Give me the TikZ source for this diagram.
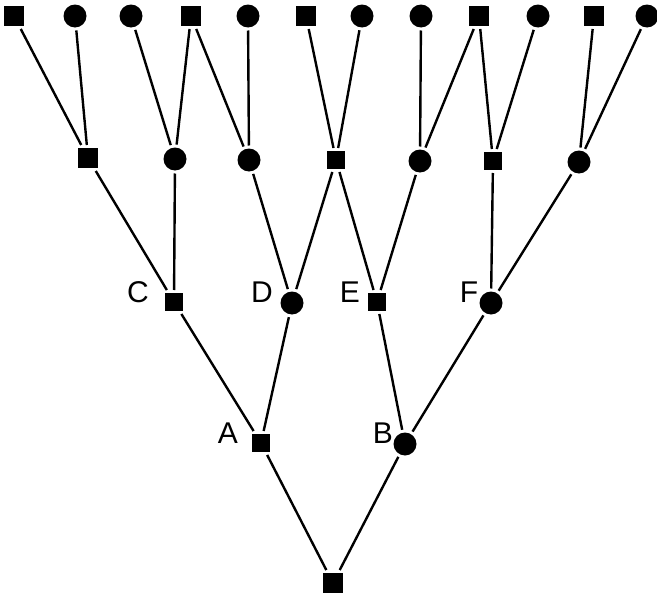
\documentclass[tikz,border=0pt]{standalone}
\usepackage{fontspec}
\setmainfont{Liberation Sans}
\begin{document}
\begin{tikzpicture}[x=1pt,y=-1pt,
  sq/.style={fill=black,minimum size=20pt,inner sep=0pt,outer sep=3pt,rectangle},
  ssq/.style={sq,minimum size=18pt},
  ci/.style={fill=black,minimum size=23pt,inner sep=0pt,outer sep=3pt,circle},
  edge/.style={line width=2.4pt},
  lab/.style={font=\fontsize{30}{31}\selectfont}]
\useasboundingbox (0,0) rectangle (657,597);
% top row
\node[sq] (t1) at (14,16) {};
\node[ci] (t2) at (75,16) {};
\node[ci] (t3) at (131,16) {};
\node[sq] (t4) at (191,16) {};
\node[ci] (t5) at (248,16) {};
\node[sq] (t6) at (306,16) {};
\node[ci] (t7) at (362,16) {};
\node[ci] (t8) at (421,16) {};
\node[sq] (t9) at (479,16) {};
\node[ci] (t10) at (538,16) {};
\node[sq] (t11) at (594,16) {};
\node[ci] (t12) at (647,16) {};
% middle row
\node[sq] (m1) at (88,158) {};
\node[ci] (m2) at (175,159) {};
\node[ci] (m3) at (249,160) {};
\node[ssq] (m4) at (336,160) {};
\node[ci] (m5) at (420,161) {};
\node[ssq] (m6) at (493,161) {};
\node[ci] (m7) at (579,162) {};
% third row
\node[ssq] (C) at (174,302) {};
\node[ci] (D) at (292,303) {};
\node[ssq] (E) at (377,302) {};
\node[ci] (F) at (491,303) {};
% fourth row
\node[ssq] (A) at (261,443) {};
\node[ci] (B) at (405,444) {};
% root
\node[sq] (r) at (333,583) {};
% labels
\node[lab] (lC) at (138,292) {C};
\node[lab] (lD) at (262,292) {D};
\node[lab] (lE) at (350,292) {E};
\node[lab] (lF) at (469,292) {F};
\node[lab] (lA) at (228,433) {A};
\node[lab] (lB) at (383,433) {B};
% edges
\foreach \a/\b in {r/A,r/B,A/C,A/D,B/E,B/F,C/m1,C/m2,D/m3,D/m4,E/m4,E/m5,F/m6,F/m7,
  m1/t1,m1/t2,m2/t3,m2/t4,m3/t4,m3/t5,m4/t6,m4/t7,m5/t8,m5/t9,m6/t9,m6/t10,m7/t11,m7/t12}
  \draw[edge] (\a) -- (\b);
\end{tikzpicture}
\end{document}
